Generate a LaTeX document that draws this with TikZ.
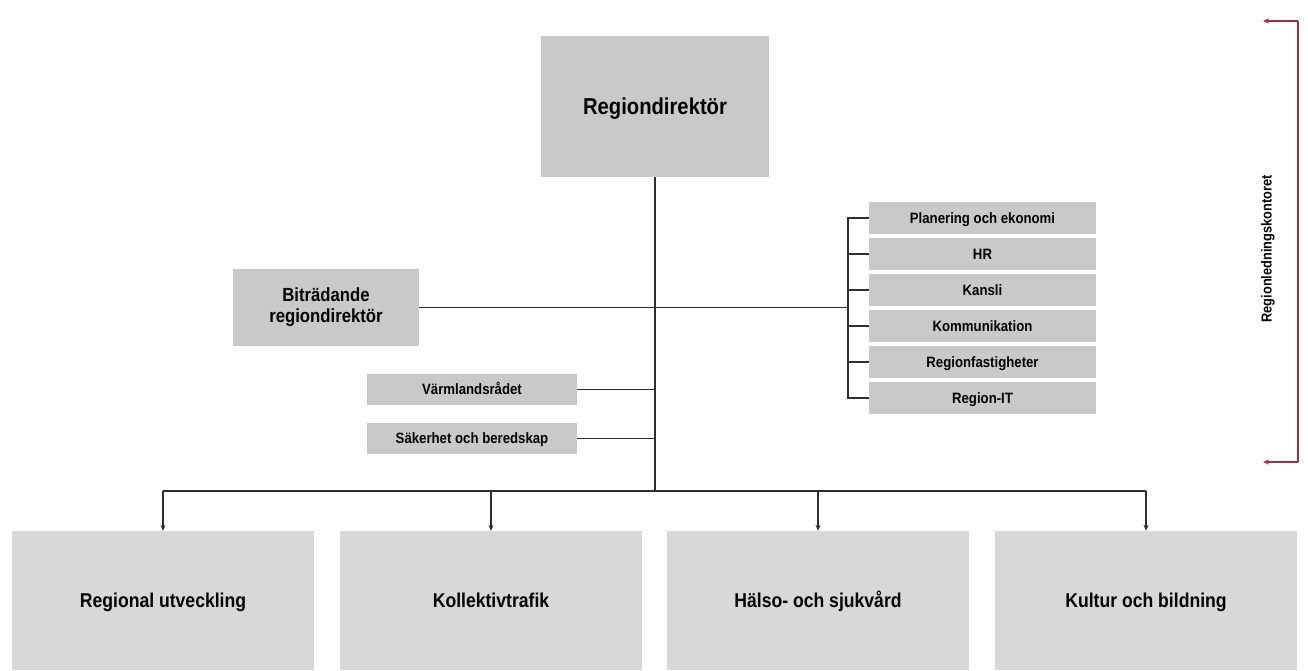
\documentclass[tikz,border=0pt]{standalone}
\usepackage{fontspec}
\setmainfont{Liberation Sans}[FakeStretch=0.88]
\usetikzlibrary{arrows.meta}
\definecolor{boxdark}{HTML}{C9C9C9}
\definecolor{boxlight}{HTML}{D8D8D8}
\definecolor{linegray}{HTML}{2E2E2E}
\definecolor{bracketred}{HTML}{A0303F}
\tikzset{
  box/.style={fill=boxdark, draw=none, inner sep=0pt, align=center, font=\bfseries},
  bigbox/.style={fill=boxlight, draw=none, inner sep=0pt, align=center, text height=14.3pt, text depth=0pt, font=\bfseries\fontsize{20}{23}\selectfont, minimum width=302pt, minimum height=139pt},
  smallbox/.style={fill=boxdark, draw=none, inner sep=0pt, align=center, text height=10.7pt, text depth=0pt, font=\bfseries\fontsize{15}{17}\selectfont},
  conn/.style={draw=linegray, line width=1.2pt},
  arr/.style={conn, -{Stealth[length=6pt,width=5pt]}},
  redarr/.style={draw=bracketred, line width=1.3pt, -{Stealth[length=6pt,width=5pt]}}
}
\begin{document}
\begin{tikzpicture}[x=1pt,y=-1pt]
\useasboundingbox (0,0) rectangle (1308,670);
% top director
\node[box, text height=16.5pt, text depth=0pt, minimum width=228pt, minimum height=141pt, font=\bfseries\fontsize{23}{26}\selectfont] (rd) at (655,106.5) {Regiondirektör};
% deputy
\node[box, minimum width=186pt, minimum height=77pt, font=\bfseries\fontsize{19}{21}\selectfont] (brd) at (326,307.5) {Biträdande\\regiondirektör};
% staff units left
\node[smallbox, minimum width=210pt, minimum height=31pt] (vr) at (472,389.5) {Värmlandsrådet};
\node[smallbox, minimum width=210pt, minimum height=31pt] (sb) at (472,438.5) {Säkerhet och beredskap};
% right stack
\foreach \n/\t/\y in {pe/Planering och ekonomi/218, hr/HR/254, ka/Kansli/290, ko/Kommunikation/326, rf/Regionfastigheter/362, it/Region-IT/398}{
  \node[smallbox, minimum width=227pt, minimum height=32pt] (\n) at (982.5,\y) {\t};
}
% bottom boxes
\node[bigbox] (ru) at (163,600.5) {Regional utveckling};
\node[bigbox] (kt) at (491,600.5) {Kollektivtrafik};
\node[bigbox] (hs) at (818,600.5) {Hälso- och sjukvård};
\node[bigbox] (kb) at (1146,600.5) {Kultur och bildning};
% coordinates
\coordinate (spine) at (655,491);
\coordinate (bt) at (848,218);
\coordinate (bb) at (848,398);
\coordinate (bm) at (848,307.5);
% connectors
\draw[conn] (rd.south) -- (spine);
\draw[conn] (brd.east) -- (bm);
\draw[conn] (vr.east) -- (vr.east -| rd.south);
\draw[conn] (sb.east) -- (sb.east -| rd.south);
\draw[conn] (pe.west) -- (bt) -- (bb) -- (it.west);
\foreach \n in {hr,ka,ko,rf}{ \draw[conn] (\n.west) -- (\n.west -| bt); }
\draw[conn] (ru.north |- spine) -- (kb.north |- spine);
\foreach \n in {ru,kt,hs,kb}{ \draw[arr] (\n.north |- spine) -- (\n.north); }
% red bracket
\coordinate (rt) at (1298,21);
\coordinate (rb) at (1298,462);
\coordinate (rtl) at (1263,21);
\coordinate (rbl) at (1263,462);
\draw[draw=bracketred, line width=1.3pt] (rt) -- (rb);
\draw[redarr] (rt) -- (rtl);
\draw[redarr] (rb) -- (rbl);
\node[rotate=90, font=\bfseries\fontsize{14.5}{16}\selectfont] (rlk) at (1268,249) {Regionledningskontoret};
\end{tikzpicture}
\end{document}
